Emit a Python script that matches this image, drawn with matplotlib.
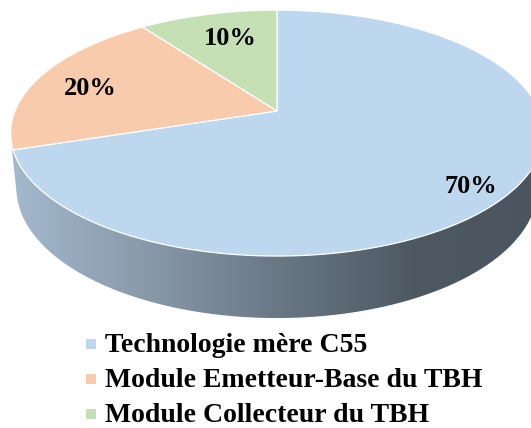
import numpy as np
import matplotlib.pyplot as plt
from matplotlib.patches import Polygon, Rectangle
from matplotlib.colors import LinearSegmentedColormap

# --- data ---
labels = ['Technologie mère C55', 'Module Emetteur-Base du TBH', 'Module Collecteur du TBH']
shares = [70, 20, 10]
top_colors = ['#bdd7ee', '#f8cbad', '#c5e0b4']
wall_colors = ['#a6bcd2', '#8a9bab', '#6a7886', '#4d5862', '#4a555f']

# --- camera / layout (pixels) ---
W, H = 531, 428
CX, CY = 277, 111          # pie apex on screen
TILT = np.radians(27.0)
DIST = 4.96
FOCAL = 1300.0
DEPTH = 0.237
FONT = 'Liberation Serif'


def project(t, z=0.0, r=1.0):
    """Perspective projection of a point on the pie disc (angle t, height z)."""
    s, c = np.sin(TILT), np.cos(TILT)
    u = r * np.cos(t)
    v = r * np.sin(t)
    w = v * c + DIST - z * s
    xs = FOCAL * u / w
    ys = FOCAL * (v * s + z * c) / w
    return CX + xs, CY - ys


fig = plt.figure(figsize=(W / 100, H / 100), dpi=100)
ax = fig.add_axes([0, 0, 1, 1])
ax.set_xlim(0, W)
ax.set_ylim(H, 0)
ax.axis('off')

# slice boundaries: start at 12 o'clock, clockwise
fracs = np.array(shares, dtype=float) / sum(shares)
bounds = np.radians(90 - 360 * np.concatenate([[0], np.cumsum(fracs)]))

# visible front wall of the cylinder, shaded left to right
lim = np.arcsin(1.0 / (DIST * np.cos(TILT)))
t = np.linspace(-np.pi + lim, -lim, 300)
tx, ty = project(t, 0.0)
bx, by = project(t[::-1], -DEPTH)
wall = Polygon(np.column_stack([np.r_[tx, bx], np.r_[ty, by]]),
               closed=True, facecolor='none', edgecolor='none')
ax.add_patch(wall)
cmap = LinearSegmentedColormap.from_list('wall', wall_colors)
grad = np.linspace(0, 1, 256).reshape(1, -1)
x0, _ = project(np.pi, 0.0)
x1, _ = project(0.0, 0.0)
img = ax.imshow(grad, cmap=cmap, aspect='auto',
                extent=[x0 - 15, x1 + 15, H, 0], zorder=1)
img.set_clip_path(wall)

# top faces
px, py = project(0.0, 0.0, r=0.0)
for i in range(len(shares)):
    t = np.linspace(bounds[i], bounds[i + 1], 300)
    ex, ey = project(t, 0.0)
    pts = np.column_stack([np.r_[px, ex], np.r_[py, ey]])
    ax.add_patch(Polygon(pts, closed=True, facecolor=top_colors[i],
                         edgecolor='white', linewidth=0.9, zorder=2))

# percentage labels
label_r = [0.86, 0.80, 0.75]
label_dx = [-7, 4, 7]
label_dy = [9, 6, 3]
for i, v in enumerate(shares):
    mid = 0.5 * (bounds[i] + bounds[i + 1])
    lx, ly = project(mid, 0.0, r=label_r[i])
    ax.text(lx + label_dx[i], ly + label_dy[i], f'{v}%', ha='center', va='center',
            fontsize=19, fontweight='bold', family=FONT, zorder=3)

# legend
row_y = [352, 387, 422]
for i, name in enumerate(labels):
    ax.add_patch(Rectangle((86, row_y[i] - 13), 10, 10,
                           facecolor=top_colors[i], edgecolor='none'))
    ax.text(105, row_y[i], name, ha='left', va='baseline',
            fontsize=20, fontweight='bold', family=FONT)

fig.savefig('out.png', dpi=100)
